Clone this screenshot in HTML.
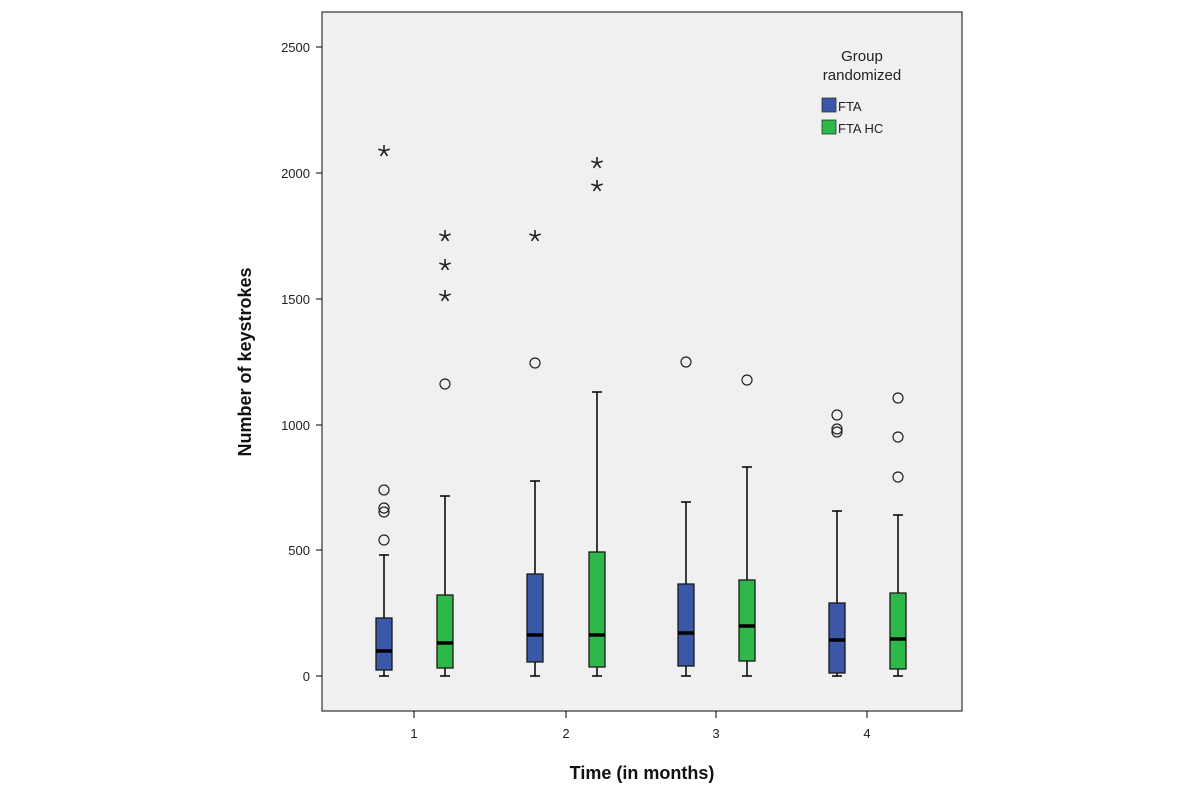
<!DOCTYPE html>
<html><head><meta charset="utf-8"><style>body{margin:0;background:#fff}svg{display:block}text{font-family:"Liberation Sans",Arial,sans-serif}</style></head><body>
<svg width="1200" height="790" viewBox="0 0 1200 790">
<defs>
<g id="st" stroke="#222" stroke-width="1.6" fill="none"><path d="M0 -6V0M0 0L5.7 -1.9M0 0L3.5 4.9M0 0L-3.5 4.9M0 0L-5.7 -1.9"/></g>
</defs>
<rect x="322" y="12" width="640" height="699" fill="#f0f0f0" stroke="#333" stroke-width="1.2"/>
<g stroke="#000" stroke-width="1">
<line x1="316" y1="676" x2="322" y2="676"/><line x1="316" y1="550" x2="322" y2="550"/><line x1="316" y1="425" x2="322" y2="425"/><line x1="316" y1="299" x2="322" y2="299"/><line x1="316" y1="173" x2="322" y2="173"/><line x1="316" y1="47" x2="322" y2="47"/>
<line x1="414" y1="711" x2="414" y2="718"/><line x1="566" y1="711" x2="566" y2="718"/><line x1="716" y1="711" x2="716" y2="718"/><line x1="867" y1="711" x2="867" y2="718"/>
</g>
<g font-size="13" fill="#222" text-anchor="end">
<text x="310" y="681">0</text><text x="310" y="555">500</text><text x="310" y="430">1000</text><text x="310" y="304">1500</text><text x="310" y="178">2000</text><text x="310" y="52">2500</text>
</g>
<g font-size="13" fill="#222" text-anchor="middle">
<text x="414" y="738">1</text><text x="566" y="738">2</text><text x="716" y="738">3</text><text x="867" y="738">4</text>
</g>
<text x="642" y="779" font-size="18" font-weight="bold" text-anchor="middle" fill="#111">Time (in months)</text>
<text transform="translate(251,362) rotate(-90)" font-size="18" font-weight="bold" text-anchor="middle" fill="#111">Number of keystrokes</text>
<g font-size="15" fill="#222" text-anchor="middle"><text x="862" y="61">Group</text><text x="862" y="80">randomized</text></g>
<rect x="822" y="98" width="14" height="14" fill="#3b58a8" stroke="#333" stroke-width="0.8"/>
<rect x="822" y="120" width="14" height="14" fill="#2fb84a" stroke="#333" stroke-width="0.8"/>
<g font-size="13" fill="#222"><text x="838" y="111">FTA</text><text x="838" y="133">FTA HC</text></g>
<g stroke="#000" stroke-width="1.5" fill="none">
<path d="M384 676V670M384 618V555M379 676h10M379 555h10"/>
<path d="M445 676V668M445 595V496M440 676h10M440 496h10"/>
<path d="M535 676V662M535 574V481M530 676h10M530 481h10"/>
<path d="M597 676V667M597 552V392M592 676h10M592 392h10"/>
<path d="M686 676V666M686 584V502M681 676h10M681 502h10"/>
<path d="M747 676V661M747 580V467M742 676h10M742 467h10"/>
<path d="M837 676V673M837 603V511M832 676h10M832 511h10"/>
<path d="M898 676V669M898 593V515M893 676h10M893 515h10"/>
</g>
<g stroke="#1a1a1a" stroke-width="1.3">
<rect x="376" y="618" width="16" height="52" fill="#3b58a8"/>
<rect x="437" y="595" width="16" height="73" fill="#2fb84a"/>
<rect x="527" y="574" width="16" height="88" fill="#3b58a8"/>
<rect x="589" y="552" width="16" height="115" fill="#2fb84a"/>
<rect x="678" y="584" width="16" height="82" fill="#3b58a8"/>
<rect x="739" y="580" width="16" height="81" fill="#2fb84a"/>
<rect x="829" y="603" width="16" height="70" fill="#3b58a8"/>
<rect x="890" y="593" width="16" height="76" fill="#2fb84a"/>
</g>
<g stroke="#000" stroke-width="3.5">
<path d="M376 651h16M437 643h16M527 635h16M589 635h16M678 633h16M739 626h16M829 640h16M890 639h16"/>
</g>
<g fill="none" stroke="#222" stroke-width="1.2">
<circle cx="384" cy="490" r="5"/><circle cx="384" cy="508" r="5"/><circle cx="384" cy="512" r="5"/><circle cx="384" cy="540" r="5"/>
<circle cx="445" cy="384" r="5"/><circle cx="535" cy="363" r="5"/><circle cx="686" cy="362" r="5"/><circle cx="747" cy="380" r="5"/>
<circle cx="837" cy="415" r="5"/><circle cx="837" cy="429" r="5"/><circle cx="837" cy="432" r="5"/>
<circle cx="898" cy="398" r="5"/><circle cx="898" cy="437" r="5"/><circle cx="898" cy="477" r="5"/>
</g>
<use href="#st" x="384" y="151"/>
<use href="#st" x="445" y="236"/><use href="#st" x="445" y="265"/><use href="#st" x="445" y="296"/>
<use href="#st" x="535" y="236"/><use href="#st" x="597" y="163"/><use href="#st" x="597" y="186"/>
</svg>
</body></html>
